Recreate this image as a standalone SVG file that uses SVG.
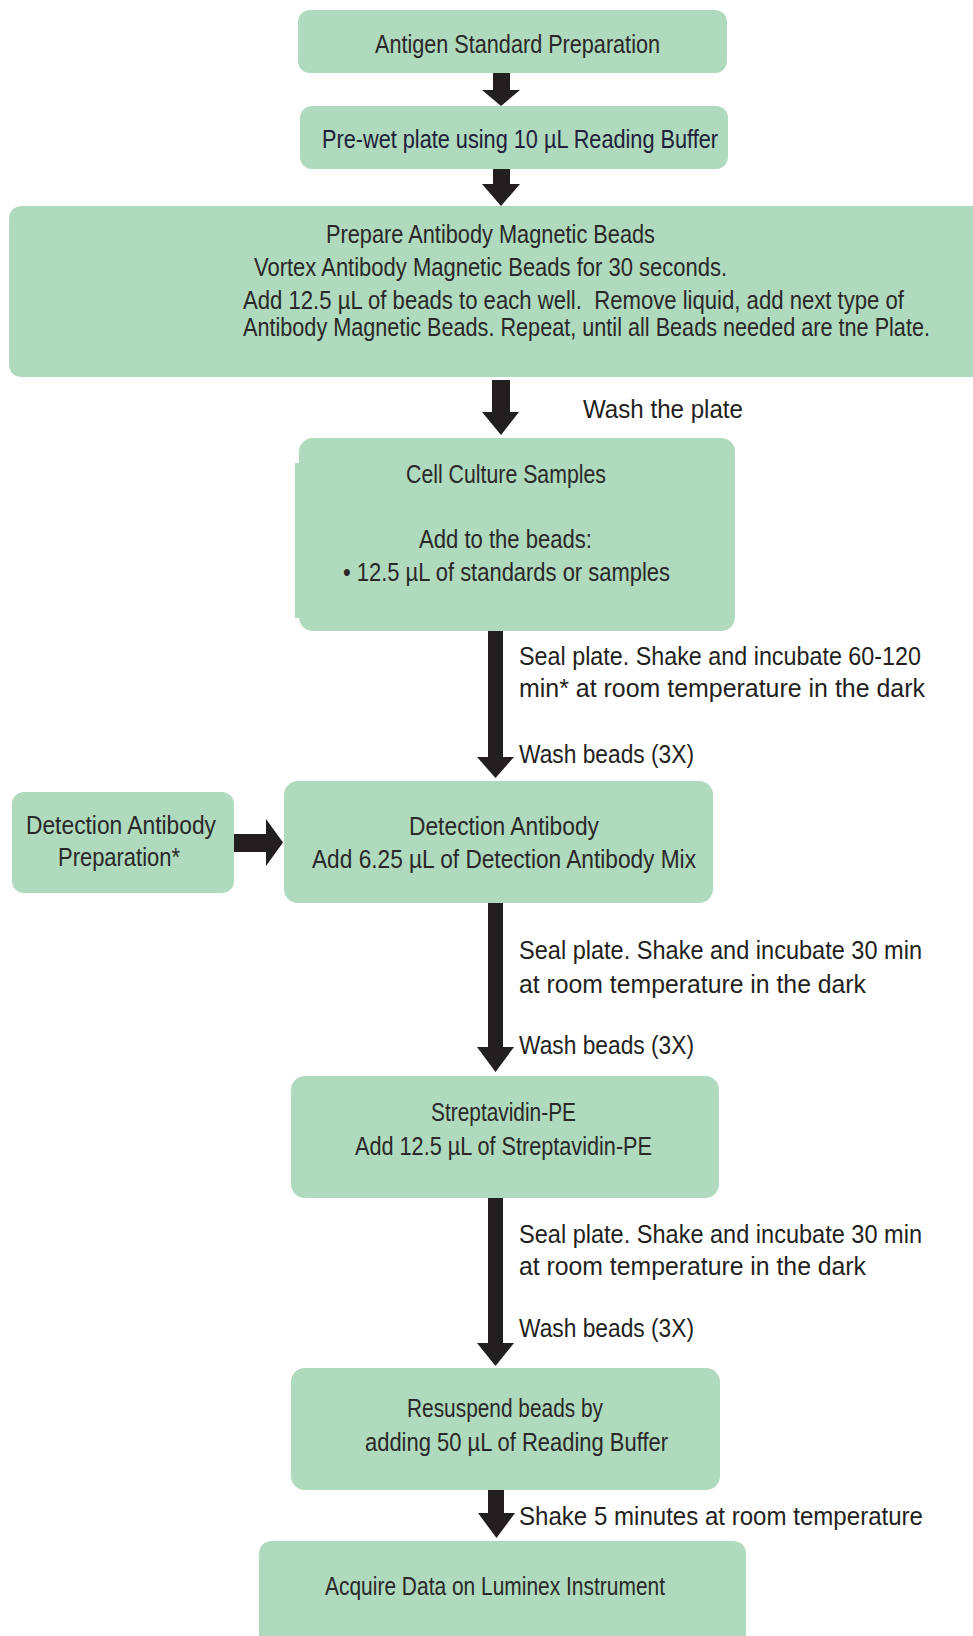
<svg xmlns="http://www.w3.org/2000/svg" width="973" height="1636" viewBox="0 0 973 1636">
<style>
.box{fill:#afdabd;}
.bt{font-family:"Liberation Sans Narrow","Liberation Sans",Arial,sans-serif;font-size:25px;fill:#2a2828;}
.lb{font-family:"Liberation Sans Narrow","Liberation Sans",Arial,sans-serif;font-size:25px;fill:#231f20;}
.ar{fill:#231f20;}
</style>
<rect width="973" height="1636" fill="#ffffff"/>
<g id="connectors">
<polygon class="ar" points="493,72 510,72 510,90 520,90 501,106 482,90 493,90"/>
<polygon class="ar" points="493,168 510,168 510,184 520,184 501,206 482,184 493,184"/>
<polygon class="ar" points="492,380 510,380 510,412 519,412 501,435 482,412 492,412"/>
<polygon class="ar" points="488,630 503,630 503,757 514,757 495.5,778 477,757 488,757"/>
<polygon class="ar" points="488,902 503,902 503,1047 514,1047 495.5,1072 477,1047 488,1047"/>
<polygon class="ar" points="488,1197 503,1197 503,1343 514,1343 495.5,1366 477,1343 488,1343"/>
<polygon class="ar" points="488,1488 504,1488 504,1513 515,1513 496.5,1538 478,1513 488,1513"/>
<polygon class="ar" points="233,834 266,834 266,819 283,842.5 266,866 266,852 233,852"/>
<text class="lb" x="583" y="418" textLength="160" lengthAdjust="spacingAndGlyphs">Wash the plate</text>
<text class="lb" x="519" y="665" textLength="402" lengthAdjust="spacingAndGlyphs">Seal plate. Shake and incubate 60-120</text>
<text class="lb" x="519" y="697" textLength="406" lengthAdjust="spacingAndGlyphs">min* at room temperature in the dark</text>
<text class="lb" x="519" y="763" textLength="175" lengthAdjust="spacingAndGlyphs">Wash beads (3X)</text>
<text class="lb" x="519" y="959" textLength="403" lengthAdjust="spacingAndGlyphs">Seal plate. Shake and incubate 30 min</text>
<text class="lb" x="519" y="993" textLength="347" lengthAdjust="spacingAndGlyphs">at room temperature in the dark</text>
<text class="lb" x="519" y="1054" textLength="175" lengthAdjust="spacingAndGlyphs">Wash beads (3X)</text>
<text class="lb" x="519" y="1243" textLength="403" lengthAdjust="spacingAndGlyphs">Seal plate. Shake and incubate 30 min</text>
<text class="lb" x="519" y="1275" textLength="347" lengthAdjust="spacingAndGlyphs">at room temperature in the dark</text>
<text class="lb" x="519" y="1337" textLength="175" lengthAdjust="spacingAndGlyphs">Wash beads (3X)</text>
<text class="lb" x="519" y="1525" textLength="404" lengthAdjust="spacingAndGlyphs">Shake 5 minutes at room temperature</text>
</g>
<g id="node-antigen">
<rect class="box" x="298" y="10" width="429" height="63" rx="12"/>
<text class="bt" x="375" y="53" textLength="285" lengthAdjust="spacingAndGlyphs">Antigen Standard Preparation</text>
</g>
<g id="node-prewet">
<rect class="box" x="300" y="106" width="428" height="63" rx="12"/>
<text class="bt" x="322" y="148" textLength="396" lengthAdjust="spacingAndGlyphs" style="fill:#20203a">Pre-wet plate using 10 µL Reading Buffer</text>
</g>
<g id="node-beads">
<path class="box" d="M23,206 H973 V377 H23 Q9,377 9,363 V220 Q9,206 23,206 Z"/>
<text class="bt" x="326" y="243" textLength="329" lengthAdjust="spacingAndGlyphs">Prepare Antibody Magnetic Beads</text>
<text class="bt" x="254" y="276" textLength="473" lengthAdjust="spacingAndGlyphs">Vortex Antibody Magnetic Beads for 30 seconds.</text>
<text class="bt" transform="translate(243,309) scale(0.85,1)" x="0" y="0" textLength="777.6" lengthAdjust="spacingAndGlyphs">Add 12.5 µL of beads to each well.&#160; Remove liquid, add next type of</text>
<text class="bt" transform="translate(243,336) scale(0.85,1)" x="0" y="0" textLength="808.2" lengthAdjust="spacingAndGlyphs">Antibody Magnetic Beads. Repeat, until all Beads needed are tne Plate.</text>
</g>
<g id="node-samples">
<rect class="box" x="295" y="463" width="8" height="155"/>
<rect class="box" x="299" y="438" width="436" height="193" rx="14"/>
<text class="bt" x="406" y="483" textLength="200" lengthAdjust="spacingAndGlyphs">Cell Culture Samples</text>
<text class="bt" x="419" y="548" textLength="173" lengthAdjust="spacingAndGlyphs">Add to the beads:</text>
<text class="bt" x="343" y="581" textLength="327" lengthAdjust="spacingAndGlyphs">• 12.5 µL of standards or samples</text>
</g>
<g id="node-detprep">
<rect class="box" x="12" y="792" width="222" height="101" rx="12"/>
<text class="bt" x="26" y="834" textLength="190" lengthAdjust="spacingAndGlyphs">Detection Antibody</text>
<text class="bt" x="58" y="866" textLength="122" lengthAdjust="spacingAndGlyphs">Preparation*</text>
</g>
<g id="node-detection">
<rect class="box" x="284" y="781" width="429" height="122" rx="14"/>
<text class="bt" x="409" y="835" textLength="190" lengthAdjust="spacingAndGlyphs">Detection Antibody</text>
<text class="bt" x="312" y="868" textLength="384" lengthAdjust="spacingAndGlyphs">Add 6.25 µL of Detection Antibody Mix</text>
</g>
<g id="node-strep">
<rect class="box" x="291" y="1076" width="428" height="122" rx="14"/>
<text class="bt" x="431" y="1121" textLength="145" lengthAdjust="spacingAndGlyphs">Streptavidin-PE</text>
<text class="bt" x="355" y="1155" textLength="297" lengthAdjust="spacingAndGlyphs">Add 12.5 µL of Streptavidin-PE</text>
</g>
<g id="node-resuspend">
<rect class="box" x="291" y="1368" width="429" height="122" rx="14"/>
<text class="bt" x="407" y="1417" textLength="196" lengthAdjust="spacingAndGlyphs">Resuspend beads by</text>
<text class="bt" x="365" y="1451" textLength="303" lengthAdjust="spacingAndGlyphs">adding 50 µL of Reading Buffer</text>
</g>
<g id="node-acquire">
<path class="box" d="M273,1541 H732 Q746,1541 746,1555 V1636 H259 V1555 Q259,1541 273,1541 Z"/>
<text class="bt" x="325" y="1595" textLength="340" lengthAdjust="spacingAndGlyphs">Acquire Data on Luminex Instrument</text>
</g>
</svg>
